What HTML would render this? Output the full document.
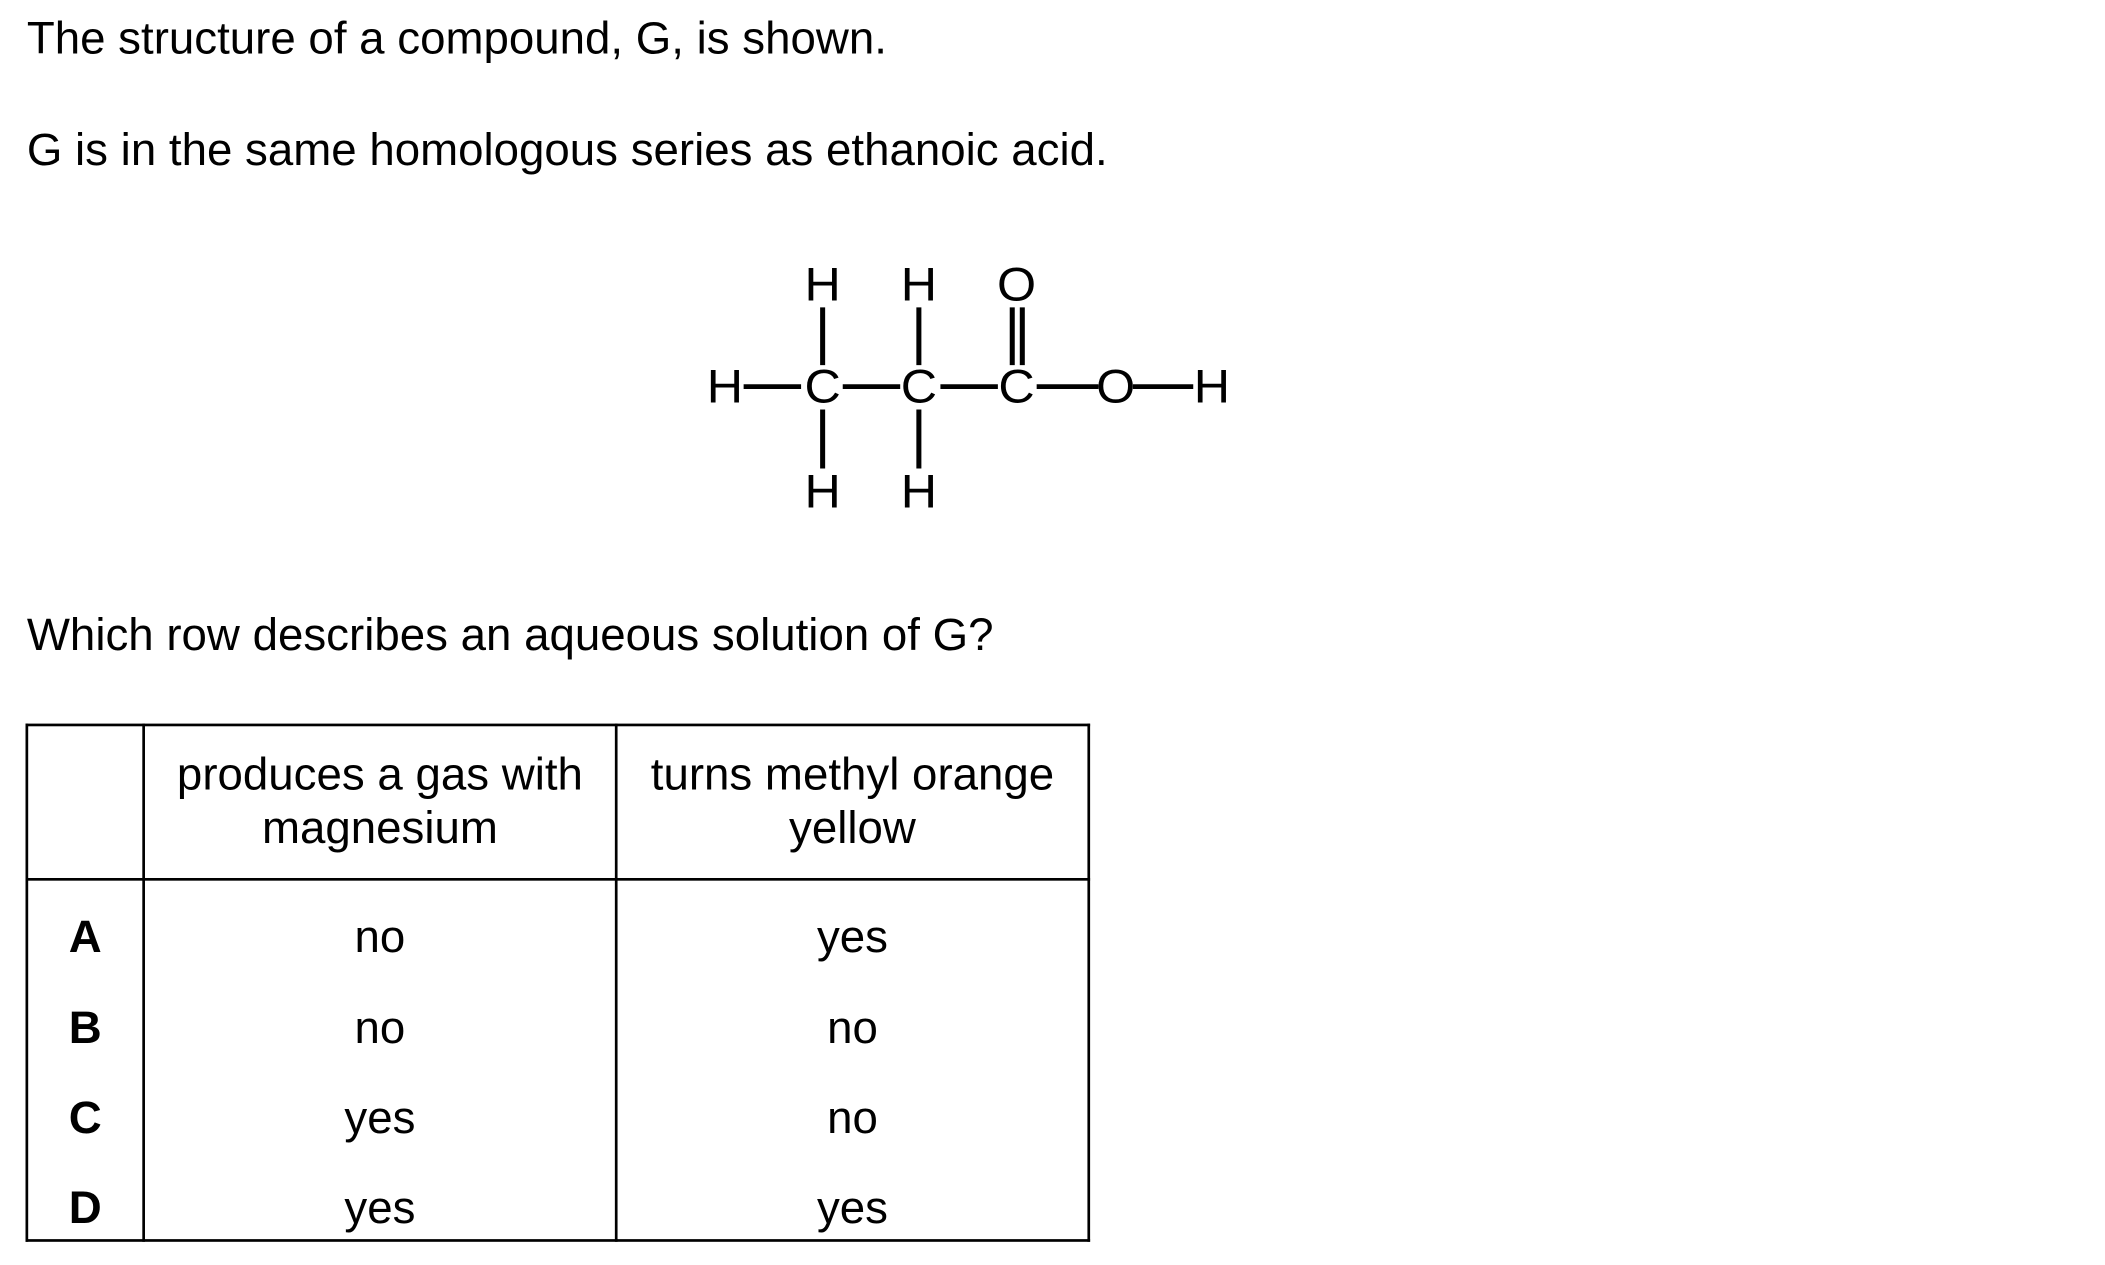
<!DOCTYPE html>
<html><head><style>
html,body{margin:0;padding:0;background:#fff;}
body{width:2105px;height:1265px;overflow:hidden;position:relative;}
#c{position:absolute;left:0;top:0;width:1568px;height:942px;transform:scale(1.3425);transform-origin:0 0;font-family:"Liberation Sans",Arial,sans-serif;color:#000;}
.t{position:absolute;font-size:34px;white-space:nowrap;line-height:1;}
.cell{position:absolute;font-size:34px;text-align:center;line-height:40px;}
.ln{position:absolute;background:#000;}
</style></head><body><div id="c">
<div class="t" style="left:20px;top:12px">The structure of a compound, G, is shown.</div>
<div class="t" style="left:20px;top:95px">G is in the same homologous series as ethanoic acid.</div>
<svg style="position:absolute;left:0;top:0" width="1568" height="942">
<g transform="translate(540,0) scale(1.07,1) translate(-538,0)">
<g font-family="Liberation Sans,Arial,sans-serif" font-size="35" text-anchor="middle">
<text x="538" y="300">H</text><text x="606" y="300">C</text><text x="673" y="300">C</text><text x="741" y="300">C</text><text x="810" y="300">O</text><text x="877" y="300">H</text>
<text x="606" y="224">H</text><text x="673" y="224">H</text><text x="741" y="224">O</text>
<text x="606" y="378">H</text><text x="673" y="378">H</text>
</g>
<g stroke="#000" stroke-width="3.5">
<line x1="551" y1="288" x2="591" y2="288"/><line x1="620" y1="288" x2="660" y2="288"/><line x1="688" y1="288" x2="728" y2="288"/><line x1="755" y1="288" x2="798" y2="288"/><line x1="822" y1="288" x2="864" y2="288"/>
<line x1="606" y1="229" x2="606" y2="272"/><line x1="673" y1="229" x2="673" y2="272"/>
<line x1="738" y1="229" x2="738" y2="272"/><line x1="745" y1="229" x2="745" y2="272"/>
<line x1="606" y1="305" x2="606" y2="349"/><line x1="673" y1="305" x2="673" y2="349"/>
</g></g></svg>
<div class="t" style="left:20px;top:456px">Which row describes an aqueous solution of G?</div>
<div class="ln" style="left:19px;top:539px;width:793px;height:2px"></div>
<div class="ln" style="left:19px;top:654px;width:793px;height:2px"></div>
<div class="ln" style="left:19px;top:923px;width:793px;height:2px"></div>
<div class="ln" style="left:19px;top:539px;width:2px;height:386px"></div>
<div class="ln" style="left:106px;top:539px;width:2px;height:386px"></div>
<div class="ln" style="left:458px;top:539px;width:2px;height:386px"></div>
<div class="ln" style="left:810px;top:539px;width:2px;height:386px"></div>
<div class="cell" style="left:108px;top:557px;width:350px">produces a gas with<br>magnesium</div>
<div class="cell" style="left:460px;top:557px;width:350px">turns methyl orange<br>yellow</div>
<div class="cell" style="left:21px;top:678px;width:85px;font-weight:bold">A</div>
<div class="cell" style="left:108px;top:678px;width:350px">no</div>
<div class="cell" style="left:460px;top:678px;width:350px">yes</div>
<div class="cell" style="left:21px;top:746px;width:85px;font-weight:bold">B</div>
<div class="cell" style="left:108px;top:746px;width:350px">no</div>
<div class="cell" style="left:460px;top:746px;width:350px">no</div>
<div class="cell" style="left:21px;top:813px;width:85px;font-weight:bold">C</div>
<div class="cell" style="left:108px;top:813px;width:350px">yes</div>
<div class="cell" style="left:460px;top:813px;width:350px">no</div>
<div class="cell" style="left:21px;top:880px;width:85px;font-weight:bold">D</div>
<div class="cell" style="left:108px;top:880px;width:350px">yes</div>
<div class="cell" style="left:460px;top:880px;width:350px">yes</div>
</div></body></html>
